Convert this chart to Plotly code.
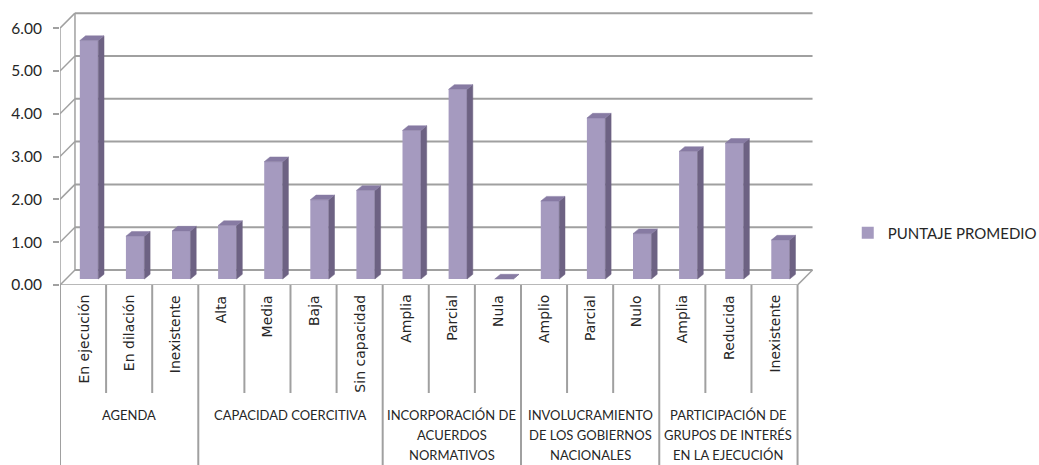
import plotly.graph_objects as go

# ---------------- data ----------------
categories = ["En ejecución", "En dilación", "Inexistente",
              "Alta", "Media", "Baja", "Sin capacidad",
              "Amplia", "Parcial", "Nula",
              "Amplio", "Parcial", "Nulo",
              "Amplia", "Reducida", "Inexistente"]
values = [5.57, 1.00, 1.12, 1.25, 2.74, 1.85, 2.07,
          3.47, 4.43, 0.00, 1.82, 3.76, 1.06, 2.98, 3.17, 0.91]
group_lines = [["AGENDA"],
               ["CAPACIDAD COERCITIVA"],
               ["INCORPORACIÓN DE", "ACUERDOS", "NORMATIVOS"],
               ["INVOLUCRAMIENTO", "DE LOS GOBIERNOS", "NACIONALES"],
               ["PARTICIPACIÓN DE", "GRUPOS DE INTERÉS", "EN LA EJECUCIÓN"]]
group_sizes = [3, 4, 3, 3, 3]
series_name = "PUNTAJE PROMEDIO"
y_ticks = [0, 1, 2, 3, 4, 5, 6]
y_ticktext = ["0.00", "1.00", "2.00", "3.00", "4.00", "5.00", "6.00"]

# ---------------- style / geometry ----------------
FRONT = "#A59ABF"
SIDE = "#6D6283"
TOP = "#877BA3"
GRID = "#A0A0A0"
TXT = "#262626"

W, H = 1039, 465
ML, MR, MT, MB = 60, 223, 11, 180
plot_h = H - MT - MB
XR = [-0.5, 15.9]
YR = [0, 6.4]

DX, DY = 0.325, 0.35          # back wall offset (3D)
F = 0.4                       # bar depth position
BW = 0.4                      # bar width
SDX, SDY = 0.125, 0.11        # bar side/top depth

def py2paper(py):
    return (H - MB - py) / plot_h

n = len(categories)
xs = [i + F * DX for i in range(n)]
base = F * DY

fig = go.Figure()

# front faces
fig.add_trace(go.Bar(x=xs, y=values, base=base, width=BW,
                     marker=dict(color=FRONT, line=dict(width=0)),
                     name=series_name, showlegend=True, hoverinfo="skip"))

# side faces
sx, sy = [], []
for xc, v in zip(xs, values):
    r = xc + BW / 2
    sx += [r, r + SDX, r + SDX, r, r, None]
    sy += [base, base + SDY, base + v + SDY, base + v, base, None]
fig.add_trace(go.Scatter(x=sx, y=sy, mode="lines", fill="toself",
                         fillcolor=SIDE, line=dict(color=SIDE, width=0.5),
                         showlegend=False, hoverinfo="skip"))
# top faces
tx, ty = [], []
for xc, v in zip(xs, values):
    l, r, t = xc - BW / 2, xc + BW / 2, base + v
    tx += [l, r, r + SDX, l + SDX, l, None]
    ty += [t, t, t + SDY, t + SDY, t, None]
fig.add_trace(go.Scatter(x=tx, y=ty, mode="lines", fill="toself",
                         fillcolor=TOP, line=dict(color=TOP, width=0.5),
                         showlegend=False, hoverinfo="skip"))

shapes = []
x0, x1 = -0.5, n - 0.5
# back wall gridlines and diagonal connectors
for k in y_ticks:
    shapes.append(dict(type="line", xref="x", yref="y", x0=x0 + DX, x1=x1 + DX,
                       y0=k + DY, y1=k + DY, line=dict(color=GRID, width=2), layer="below"))
    shapes.append(dict(type="line", xref="x", yref="y", x0=x0, x1=x0 + DX,
                       y0=k, y1=k + DY, line=dict(color=GRID, width=1.5), layer="below"))
# back wall left edge
shapes.append(dict(type="line", xref="x", yref="y", x0=x0 + DX, x1=x0 + DX,
                   y0=DY, y1=y_ticks[-1] + DY, line=dict(color=GRID, width=1.5), layer="below"))
# front axis
shapes.append(dict(type="line", xref="x", yref="y", x0=x0, x1=x0,
                   y0=0, y1=y_ticks[-1], line=dict(color=GRID, width=1.5), layer="below"))
# floor front edge & right edge
shapes.append(dict(type="line", xref="x", yref="y", x0=x0, x1=x1,
                   y0=0, y1=0, line=dict(color=GRID, width=1.5), layer="below"))
shapes.append(dict(type="line", xref="x", yref="y", x0=x1, x1=x1 + DX,
                   y0=0, y1=DY, line=dict(color=GRID, width=1.5), layer="below"))

# category table lines
group_bounds = [-0.5]
for s in group_sizes:
    group_bounds.append(group_bounds[-1] + s)
sub_bottom = py2paper(393)
grp_bottom = py2paper(470)
for i in range(n - 1):
    b = i + 0.5
    if b in group_bounds:
        continue
    shapes.append(dict(type="line", xref="x", yref="paper", x0=b, x1=b,
                       y0=0, y1=sub_bottom, line=dict(color=GRID, width=2)))
for b in group_bounds:
    shapes.append(dict(type="line", xref="x", yref="paper", x0=b, x1=b,
                       y0=0, y1=grp_bottom, line=dict(color=GRID, width=2)))

annotations = []
for i, c in enumerate(categories):
    annotations.append(dict(x=i, xref="x", y=py2paper(293), yref="paper",
                            text=c, textangle=-90, showarrow=False,
                            xanchor="center", yanchor="top",
                            font=dict(family="DejaVu Sans", size=14, color=TXT)))
for gi, lines in enumerate(group_lines):
    center = group_bounds[gi] + group_sizes[gi] / 2
    for j, line in enumerate(lines):
        annotations.append(dict(x=center, xref="x", y=py2paper(415 + 20 * j), yref="paper",
                                text=line, showarrow=False, xanchor="center", yanchor="middle",
                                font=dict(family="Lato", size=13, color=TXT)))

fig.update_layout(
    width=W, height=H,
    margin=dict(l=ML, r=MR, t=MT, b=MB, autoexpand=False),
    paper_bgcolor="white", plot_bgcolor="white",
    xaxis=dict(range=XR, visible=False, fixedrange=True),
    yaxis=dict(range=YR, tickvals=y_ticks, ticktext=y_ticktext,
               ticks="outside", ticklen=6, tickcolor=GRID, tickwidth=1.5,
               showgrid=False, zeroline=False, showline=False,
               ticklabelstandoff=8,
               tickfont=dict(family="Lato", size=15.5, color=TXT)),
    shapes=shapes, annotations=annotations,
    legend=dict(x=1.042, xanchor="left", y=py2paper(233), yanchor="middle",
                font=dict(family="Lato", size=15, color=TXT),
                itemwidth=30, bgcolor="rgba(0,0,0,0)"),
    showlegend=True,
)

fig.write_html("out.html")
